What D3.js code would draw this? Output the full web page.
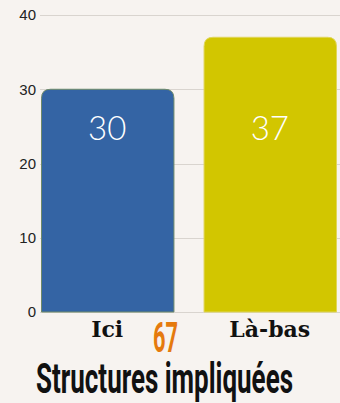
<!DOCTYPE html>
<html>
<head>
<meta charset="utf-8">
<script src="https://cdn.jsdelivr.net/npm/d3@7"></script>
<style>
  html, body { margin: 0; padding: 0; background: #f7f3f0; }
  svg { display: block; }
</style>
</head>
<body>
<svg id="chart" width="340" height="403"></svg>
<script>
// Data
const categories = ["Ici", "Là-bas"];
const values = [30, 37];
const barColors = ["#3464a4", "#d2c600"];
const barStrokes = ["#6f8a6a", "#e0d65a"];
const yTicks = [0, 10, 20, 30, 40];
const totalLabel = "67";
const titleText = "Structures impliquées";

const svg = d3.select("#chart");
const W = 340, H = 403;

svg.append("rect").attr("width", W).attr("height", H).attr("fill", "#f7f3f0");

const y = d3.scaleLinear().domain([0, 40]).range([312, 15]);
const x = d3.scaleBand().domain(categories).range([41, 336])
  .paddingInner(30 / 162).paddingOuter(0);

// Gridlines and tick labels
const yAxis = d3.axisLeft(y).tickValues(yTicks).tickSize(0).tickPadding(0)
  .tickFormat(d3.format("d"));
const gAxis = svg.append("g").attr("transform", "translate(36,0)").call(yAxis);
gAxis.select(".domain").remove();
gAxis.selectAll("text")
  .attr("x", 0)
  .attr("fill", "#222")
  .style("font-family", "'Liberation Sans', Arial, sans-serif")
  .style("font-size", "15px");

svg.append("g").selectAll("line").data(yTicks).join("line")
  .attr("x1", 40).attr("x2", W)
  .attr("y1", d => Math.round(y(d)) + 0.5).attr("y2", d => Math.round(y(d)) + 0.5)
  .attr("stroke", "#d9d4cf").attr("stroke-width", 1);

// Bars with rounded top corners
const r = 9;
function barPath(x0, w, yTop, yBot) {
  return `M${x0},${yBot}V${yTop + r}Q${x0},${yTop} ${x0 + r},${yTop}` +
         `H${x0 + w - r}Q${x0 + w},${yTop} ${x0 + w},${yTop + r}V${yBot}Z`;
}
svg.append("g").selectAll("path").data(categories).join("path")
  .attr("d", (c, i) => barPath(x(c) + 0.5, x.bandwidth(), y(values[i]), y(0)))
  .attr("fill", (c, i) => barColors[i])
  .attr("stroke", (c, i) => barStrokes[i])
  .attr("stroke-width", 1);

// Value labels inside the bars
svg.append("g").selectAll("text").data(categories).join("text")
  .attr("x", c => x(c) + x.bandwidth() / 2)
  .attr("y", 140)
  .attr("text-anchor", "middle")
  .attr("fill", "#ffffff")
  .style("font-family", "Lato, 'Open Sans', sans-serif")
  .style("font-weight", 300)
  .style("font-size", "33px")
  .text((c, i) => values[i]);

// Category labels
svg.append("g").selectAll("text").data(categories).join("text")
  .attr("x", c => x(c) + x.bandwidth() / 2)
  .attr("y", 337)
  .attr("text-anchor", "middle")
  .attr("fill", "#111")
  .style("font-family", "'DejaVu Serif', serif")
  .style("font-weight", 700)
  .style("font-size", "22px")
  .text(c => c);

// Total
svg.append("text")
  .attr("x", 153).attr("y", 352)
  .attr("textLength", 25).attr("lengthAdjust", "spacingAndGlyphs")
  .attr("fill", "#e57a0e")
  .style("font-family", "Roboto, sans-serif")
  .style("font-weight", 700)
  .style("font-size", "43px")
  .text(totalLabel);

// Title
svg.append("text")
  .attr("x", 36).attr("y", 393)
  .attr("textLength", 257).attr("lengthAdjust", "spacingAndGlyphs")
  .attr("fill", "#111")
  .style("font-family", "Roboto, sans-serif")
  .style("font-weight", 700)
  .style("font-size", "42px")
  .text(titleText);
</script>
</body>
</html>
